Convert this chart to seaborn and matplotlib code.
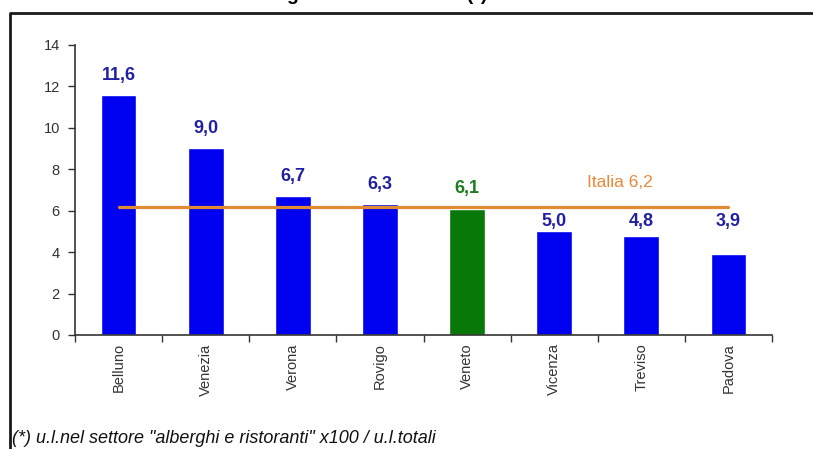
import matplotlib
matplotlib.use("Agg")
import matplotlib.pyplot as plt
from matplotlib.lines import Line2D
import seaborn as sns
import pandas as pd

# Unità locali in alberghi e ristoranti ogni 100 unità locali totali
provinces = ["Belluno", "Venezia", "Verona", "Rovigo", "Veneto", "Vicenza", "Treviso", "Padova"]
values = [11.6, 9.0, 6.7, 6.3, 6.1, 5.0, 4.8, 3.9]
italia = 6.2
y_ticks = [0, 2, 4, 6, 8, 10, 12, 14]

BLUE = "#0000F0"
GREEN = "#087808"
bar_colors = [GREEN if p == "Veneto" else BLUE for p in provinces]
label_colors = ["#1E7B1E" if p == "Veneto" else "#2020A0" for p in provinces]

sns.set_theme(style="white")
plt.rcParams["font.family"] = ["Liberation Sans", "DejaVu Sans"]

df = pd.DataFrame({"provincia": provinces, "valore": values})

fig = plt.figure(figsize=(8.13, 4.49), dpi=100)
ax = fig.add_axes([0.0923, 0.254, 0.8573, 0.646])

sns.barplot(data=df, x="provincia", y="valore", hue="provincia",
            palette=dict(zip(provinces, bar_colors)), width=0.41,
            legend=False, ax=ax, saturation=1)

# value labels: above the bar, or just under the national line for short bars
for cont, col in zip(ax.containers, label_colors):
    for rect, v in zip(cont, cont.datavalues):
        txt = f"{v:.1f}".replace(".", ",")
        xc = rect.get_x() + rect.get_width() / 2
        if v < italia - 1:
            ax.annotate(txt, xy=(xc, italia), xytext=(0, -5), textcoords="offset points",
                        ha="center", va="top", fontsize=13, fontweight="bold", color=col)
        else:
            ax.annotate(txt, xy=(xc, v), xytext=(0, 8), textcoords="offset points",
                        ha="center", va="bottom", fontsize=13, fontweight="bold", color=col)

# national reference line
ax.plot([0, len(provinces) - 1], [italia, italia], color="#E08A33", lw=2.3, zorder=5)
ax.annotate(f"Italia {italia:.1f}".replace(".", ","), xy=(5.75, italia),
            xytext=(0, 12), textcoords="offset points", ha="center", va="bottom",
            fontsize=12.5, color="#E8893A")

ax.set_xlim(-0.5, len(provinces) - 0.5)
ax.set_ylim(0, 14)
ax.set_yticks(y_ticks)
ax.set_yticklabels([str(t) for t in y_ticks], fontsize=10.5, color="#333333")
ax.set_xticks(range(len(provinces)))
ax.set_xticklabels(provinces, rotation=90, fontsize=10.5, color="#333333")
ax.set_xticks([i - 0.5 for i in range(len(provinces) + 1)], minor=True)
ax.tick_params(axis="x", which="major", length=0, pad=6)
ax.tick_params(axis="x", which="minor", length=5, width=1, color="#333333", direction="out", bottom=True)
ax.tick_params(axis="y", length=5, width=1, color="#333333", direction="out", left=True, pad=6)
ax.set_xlabel("")
ax.set_ylabel("")
for s in ["top", "right"]:
    ax.spines[s].set_visible(False)
for s in ["left", "bottom"]:
    ax.spines[s].set_color("#333333")
    ax.spines[s].set_linewidth(1.2)

# outer frame (left and top borders)
fig.add_artist(Line2D([0.0117, 0.0117, 1.0], [0.0, 0.971, 0.971],
                      transform=fig.transFigure, color="#1a1a1a", lw=2.0))

# title, partly above the frame
fig.text(155 / 813, 0.999, "Intensità alberghiera e ristorativa (*)", ha="left",
         va="baseline", fontsize=14, fontweight="bold", color="black")

fig.text(12 / 813, 1 - 443 / 449,
         "(*) u.l.nel settore \"alberghi e ristoranti\" x100 / u.l.totali",
         ha="left", va="baseline", fontsize=13, fontstyle="italic", color="#111111",
         family=["Liberation Sans Narrow", "Liberation Sans", "DejaVu Sans"])

fig.savefig("out.png", dpi=100)
